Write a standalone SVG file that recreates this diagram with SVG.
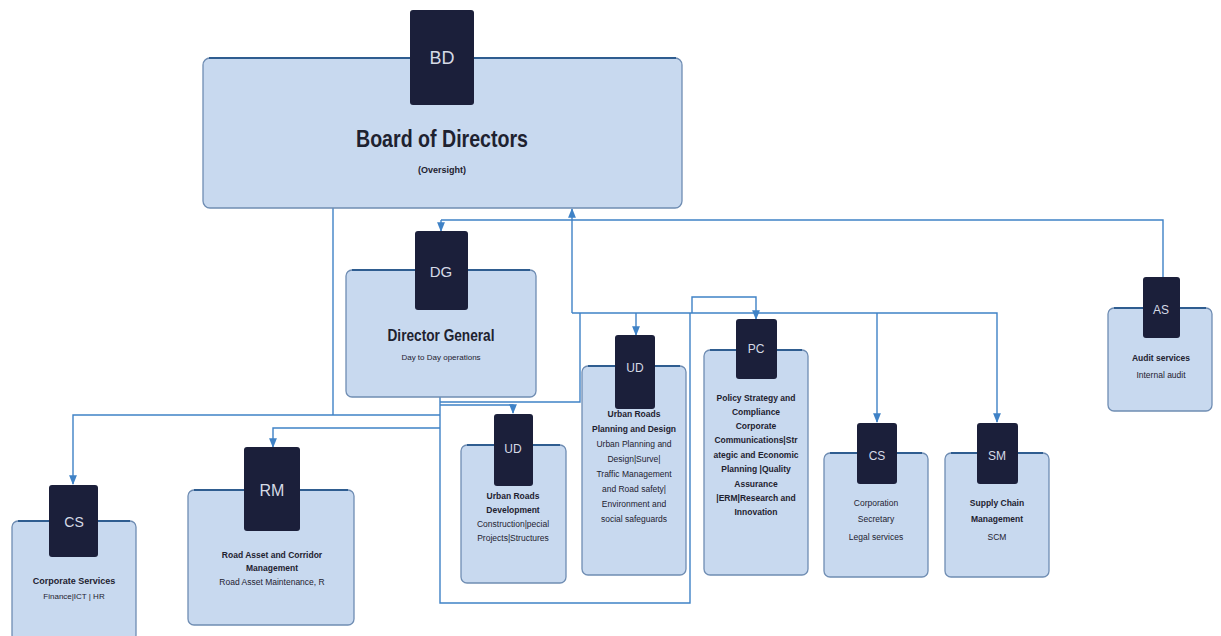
<svg xmlns="http://www.w3.org/2000/svg" width="1221" height="636" viewBox="0 0 1221 636">
<defs>
<style>
.box{fill:#c8d9ef;stroke:#6f8db3;stroke-width:1.3}
.top{stroke:#2f5d90;stroke-width:2.2;fill:none}
.tab{fill:#1b1f3a}
.tt{font-family:"Liberation Sans",Arial,sans-serif;fill:#d6dae6;text-anchor:middle}
.t{font-family:"Liberation Sans",Arial,sans-serif;fill:#1e2230;text-anchor:middle;font-size:8.5px}
.b{font-weight:bold}
.c{fill:none;stroke:#3f82c6;stroke-width:1.4}
</style>
<marker id="ar" viewBox="0 0 10 10" refX="9" refY="5" markerWidth="7" markerHeight="7" orient="auto">
<path d="M0,1 L10,5 L0,9 z" fill="#3f82c6"/>
</marker>
</defs>
<rect width="1221" height="636" fill="#ffffff"/>

<g id="connectors">
<path class="c" d="M441,220 L441,231" marker-end="url(#ar)"/>
<path class="c" d="M441,220 L1163,220 L1163,290" marker-end="url(#ar)"/>
<path class="c" d="M572,313 L572,209" marker-end="url(#ar)"/>
<path class="c" d="M572,313 L997,313 L997,422" marker-end="url(#ar)"/>
<path class="c" d="M636,313 L636,335" marker-end="url(#ar)"/>
<path class="c" d="M692,313 L692,297 L756,297 L756,319" marker-end="url(#ar)"/>
<path class="c" d="M877,313 L877,422" marker-end="url(#ar)"/>
<path class="c" d="M580,313 L580,402 L440,402"/>
<path class="c" d="M440,405 L513,405 L513,413" marker-end="url(#ar)"/>
<path class="c" d="M333,208 L333,415"/>
<path class="c" d="M440,415 L73,415 L73,484" marker-end="url(#ar)"/>
<path class="c" d="M440,428 L273,428 L273,447" marker-end="url(#ar)"/>
<path class="c" d="M440,397 L440,603 L690,603 L690,313"/>
</g>

<g id="node-BD">
<rect class="box" x="203" y="58" width="479" height="150" rx="7"/>
<path class="top" d="M209,58 L676,58"/>
<rect class="tab" x="410" y="10" width="64" height="95" rx="3"/>
<text class="tt" x="442" y="64" font-size="18">BD</text>
<text class="t b" x="442" y="147" font-size="24" textLength="172" lengthAdjust="spacingAndGlyphs" style="font-size:24px">Board of Directors</text>
<text class="t b" x="442" y="173" style="font-size:9px">(Oversight)</text>
</g>

<g id="node-DG">
<rect class="box" x="346" y="270" width="190" height="127" rx="6"/>
<path class="top" d="M352,270 L530,270"/>
<rect class="tab" x="415" y="231" width="53" height="79" rx="3"/>
<text class="tt" x="441" y="277" font-size="15">DG</text>
<text class="t b" x="441" y="341" textLength="107" lengthAdjust="spacingAndGlyphs" style="font-size:16px">Director General</text>
<text class="t" x="441" y="360" style="font-size:8px">Day to Day operations</text>
</g>

<g id="node-CS">
<rect class="box" x="12" y="521" width="124" height="120" rx="6"/>
<path class="top" d="M18,521 L130,521"/>
<rect class="tab" x="49" y="485" width="49" height="72" rx="3"/>
<text class="tt" x="74" y="527" font-size="14">CS</text>
<text class="t b" x="74" y="584" style="font-size:9px">Corporate Services</text>
<text class="t" x="74" y="599" style="font-size:8px">Finance|ICT | HR</text>
</g>

<g id="node-RM">
<rect class="box" x="188" y="490" width="166" height="135" rx="6"/>
<path class="top" d="M194,490 L348,490"/>
<rect class="tab" x="244" y="447" width="56" height="84" rx="3"/>
<text class="tt" x="272" y="496" font-size="16">RM</text>
<text class="t b" x="272" y="558">Road Asset and Corridor</text>
<text class="t b" x="272" y="571">Management</text>
<text class="t" x="272" y="585">Road Asset Maintenance, R</text>
</g>

<g id="node-UD1">
<rect class="box" x="461" y="445" width="105" height="138" rx="6"/>
<path class="top" d="M467,445 L560,445"/>
<rect class="tab" x="494" y="414" width="39" height="72" rx="3"/>
<text class="tt" x="513" y="453" font-size="12">UD</text>
<text class="t b" x="513" y="499">Urban Roads</text>
<text class="t b" x="513" y="513">Development</text>
<text class="t" x="513" y="527">Construction|pecial</text>
<text class="t" x="513" y="541">Projects|Structures</text>
</g>

<g id="node-UD2">
<rect class="box" x="582" y="366" width="104" height="209" rx="6"/>
<path class="top" d="M588,366 L680,366"/>
<rect class="tab" x="615" y="335" width="40" height="74" rx="3"/>
<text class="tt" x="635" y="372" font-size="12">UD</text>
<text class="t b" x="634" y="417">Urban Roads</text>
<text class="t b" x="634" y="432">Planning and Design</text>
<text class="t" x="634" y="447">Urban Planning and</text>
<text class="t" x="634" y="462">Design|Surve|</text>
<text class="t" x="634" y="477">Traffic Management</text>
<text class="t" x="634" y="492">and Road safety|</text>
<text class="t" x="634" y="507">Environment and</text>
<text class="t" x="634" y="522">social safeguards</text>
</g>

<g id="node-PC">
<rect class="box" x="704" y="350" width="104" height="225" rx="6"/>
<path class="top" d="M710,350 L802,350"/>
<rect class="tab" x="736" y="319" width="41" height="60" rx="3"/>
<text class="tt" x="756" y="353" font-size="12">PC</text>
<text class="t b" x="756" y="401">Policy Strategy and</text>
<text class="t b" x="756" y="415">Compliance</text>
<text class="t b" x="756" y="429">Corporate</text>
<text class="t b" x="756" y="443">Communications|Str</text>
<text class="t b" x="756" y="458">ategic and Economic</text>
<text class="t b" x="756" y="472">Planning |Quality</text>
<text class="t b" x="756" y="487">Assurance</text>
<text class="t b" x="756" y="501">|ERM|Research and</text>
<text class="t b" x="756" y="515">Innovation</text>
</g>

<g id="node-CS2">
<rect class="box" x="824" y="453" width="104" height="124" rx="6"/>
<path class="top" d="M830,453 L922,453"/>
<rect class="tab" x="857" y="423" width="40" height="61" rx="3"/>
<text class="tt" x="877" y="460" font-size="12">CS</text>
<text class="t" x="876" y="506">Corporation</text>
<text class="t" x="876" y="522">Secretary</text>
<text class="t" x="876" y="540">Legal services</text>
</g>

<g id="node-SM">
<rect class="box" x="945" y="453" width="104" height="124" rx="6"/>
<path class="top" d="M951,453 L1043,453"/>
<rect class="tab" x="977" y="423" width="41" height="61" rx="3"/>
<text class="tt" x="997" y="460" font-size="12">SM</text>
<text class="t b" x="997" y="506">Supply Chain</text>
<text class="t b" x="997" y="522">Management</text>
<text class="t" x="997" y="540">SCM</text>
</g>

<g id="node-AS">
<rect class="box" x="1108" y="308" width="104" height="103" rx="6"/>
<path class="top" d="M1114,308 L1206,308"/>
<rect class="tab" x="1143" y="277" width="37" height="61" rx="3"/>
<text class="tt" x="1161" y="314" font-size="12">AS</text>
<text class="t b" x="1161" y="361">Audit services</text>
<text class="t" x="1161" y="378">Internal audit</text>
</g>
</svg>
